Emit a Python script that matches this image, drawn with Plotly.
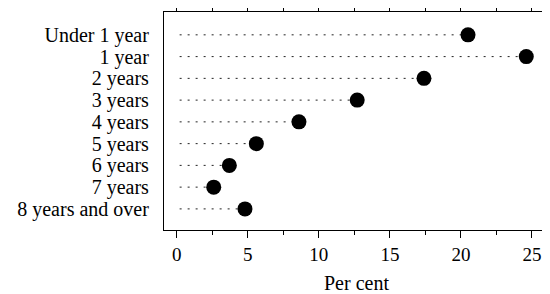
import plotly.graph_objects as go

categories = ["Under 1 year", "1 year", "2 years", "3 years", "4 years",
              "5 years", "6 years", "7 years", "8 years and over"]
per_cent = [20.5, 24.6, 17.4, 12.7, 8.6, 5.6, 3.7, 2.6, 4.8]
tick_vals = [0, 5, 10, 15, 20, 25]

fig = go.Figure()

# dotted leader lines from 0 to each value
lx, ly = [], []
for c, v in zip(categories, per_cent):
    lx += [0.2, v, None]
    ly += [c, c, None]
fig.add_trace(go.Scatter(x=lx, y=ly, mode="lines",
                         line=dict(color="#222", width=1, dash="2px,6px"),
                         hoverinfo="skip", showlegend=False))

fig.add_trace(go.Scatter(x=per_cent, y=categories, mode="markers",
                         marker=dict(color="black", size=15),
                         showlegend=False))

# the page body has an 8px margin, so the figure is sized to fit the window
fig.update_layout(
    width=542, height=286,
    margin=dict(l=156, r=1, t=4, b=64),
    paper_bgcolor="white", plot_bgcolor="white",
    font=dict(family="Liberation Serif", color="black", size=19),
)
fig.update_xaxes(
    range=[-0.9, 26.2], tickvals=tick_vals, ticktext=[str(t) for t in tick_vals],
    ticks="outside", ticklen=7, tickwidth=1.3, tickcolor="black",
    minor=dict(dtick=2.5, tick0=0, ticks="outside", ticklen=4, tickwidth=1, tickcolor="black"),
    showline=True, linecolor="black", linewidth=1.3, mirror="allticks",
    showgrid=False, zeroline=False, automargin=False,
    tickfont=dict(size=19),
    title=dict(text="Per cent", font=dict(size=20), standoff=13),
)
fig.update_yaxes(
    type="category", categoryorder="array", categoryarray=categories,
    tickmode="array", tickvals=categories,
    range=[8.97, -1.05], showline=True, linecolor="black", linewidth=1.3,
    mirror=True, ticks="", showgrid=False, zeroline=False, automargin=False,
    tickfont=dict(size=20), ticklabelstandoff=10,
)

fig.write_html("out.html")
